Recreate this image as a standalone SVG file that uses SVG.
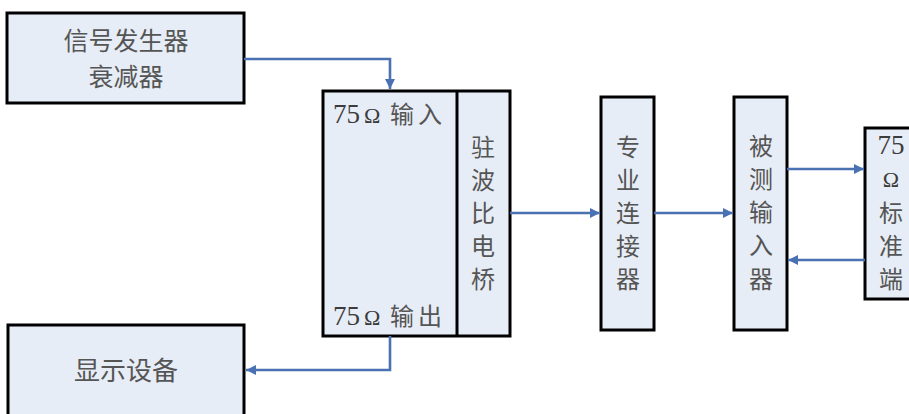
<svg xmlns="http://www.w3.org/2000/svg" width="909" height="414" viewBox="0 0 909 414">
<defs>
<style>
.box{fill:#e7edf6;stroke:#000;stroke-width:3}
.cjk{font-family:"Noto Sans CJK SC","Noto Sans",sans-serif;fill:#555}
.num{font-family:"Liberation Serif","Noto Sans CJK SC",serif;fill:#3c3c3c}
.mid{text-anchor:middle}
.conn{fill:none;stroke:#4a72b2;stroke-width:2.6}
</style>
<marker id="arr" markerUnits="userSpaceOnUse" markerWidth="12" markerHeight="12" refX="10" refY="5" orient="auto">
<path d="M0,0 L10,5 L0,10 Z" fill="#4a72b2"/>
</marker>
</defs>
<rect width="909" height="414" fill="#fff"/>

<g id="signal">
<rect class="box" x="7" y="13" width="237" height="90"/>
<text class="cjk mid" x="126" y="50" font-size="25">信号发生器</text>
<text class="cjk mid" x="126" y="86" font-size="25">衰减器</text>
</g>

<g id="display">
<rect class="box" x="8" y="325" width="236" height="110"/>
<text class="cjk mid" x="126" y="380" font-size="26">显示设备</text>
</g>

<g id="bridge">
<rect class="box" x="323" y="91" width="187" height="245"/>
<line x1="457" y1="91" x2="457" y2="336" stroke="#000" stroke-width="3"/>
<text y="123"><tspan class="num" x="333" font-size="27">75</tspan><tspan class="num" x="364" font-size="22">Ω</tspan><tspan class="cjk" x="390" font-size="24">输</tspan><tspan class="cjk" x="418" font-size="24">入</tspan></text>
<text y="325"><tspan class="num" x="333" font-size="27">75</tspan><tspan class="num" x="364" font-size="22">Ω</tspan><tspan class="cjk" x="390" font-size="24">输</tspan><tspan class="cjk" x="418" font-size="24">出</tspan></text>
<text class="cjk mid" font-size="24"><tspan x="483" y="156">驻</tspan><tspan x="483" y="189">波</tspan><tspan x="483" y="222">比</tspan><tspan x="483" y="255">电</tspan><tspan x="483" y="288">桥</tspan></text>
</g>

<g id="connector">
<rect class="box" x="601" y="97" width="53" height="233"/>
<text class="cjk mid" font-size="24"><tspan x="628" y="156">专</tspan><tspan x="628" y="189">业</tspan><tspan x="628" y="222">连</tspan><tspan x="628" y="255">接</tspan><tspan x="628" y="288">器</tspan></text>
</g>

<g id="dut">
<rect class="box" x="734" y="97" width="53" height="233"/>
<text class="cjk mid" font-size="24"><tspan x="761" y="155">被</tspan><tspan x="761" y="188">测</tspan><tspan x="761" y="221">输</tspan><tspan x="761" y="254">入</tspan><tspan x="761" y="288">器</tspan></text>
</g>

<g id="terminator">
<rect class="box" x="865" y="128" width="60" height="171"/>
<text class="num mid" x="891" y="154" font-size="27">75</text>
<text class="num mid" x="891" y="187" font-size="22">Ω</text>
<text class="cjk mid" font-size="24"><tspan x="891" y="222">标</tspan><tspan x="891" y="255">准</tspan><tspan x="891" y="288">端</tspan></text>
</g>

<g id="connectors">
<path class="conn" d="M244,59 H390 V89" marker-end="url(#arr)"/>
<path class="conn" d="M390,336 V370 H246" marker-end="url(#arr)"/>
<path class="conn" d="M510,213 H600" marker-end="url(#arr)"/>
<path class="conn" d="M654,213 H733" marker-end="url(#arr)"/>
<path class="conn" d="M787,169 H864" marker-end="url(#arr)"/>
<path class="conn" d="M865,260 H788" marker-end="url(#arr)"/>
</g>
</svg>
